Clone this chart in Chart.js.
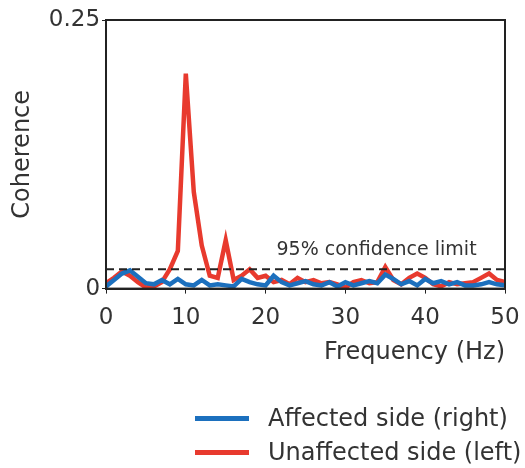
<!DOCTYPE html>
<html>
<head>
<meta charset="utf-8">
<script src="https://cdn.jsdelivr.net/npm/chart.js@4"></script>
<style>
  body { margin: 0; background: #fff; }
  #wrap { position: relative; width: 525px; height: 468px; }
  #legend { position: absolute; left: 195px; top: 401px; font-family: "DejaVu Sans", sans-serif; font-size: 24px; color: #333; }
  #legend div { display: flex; align-items: center; height: 34px; }
  #legend span.sw { display: inline-block; width: 54px; height: 5px; margin-right: 19px; }
</style>
</head>
<body>
<div id="wrap">
  <canvas id="chart" width="525" height="468"></canvas>
  <div id="legend"></div>
</div>
<script>
// frequency bins (Hz)
const freqs = [];
for (let f = 0; f <= 50; f++) freqs.push(f);

const affected = [0.002, 0.008, 0.014, 0.017, 0.011, 0.005, 0.004, 0.008, 0.004, 0.009,
  0.004, 0.003, 0.008, 0.003, 0.004, 0.003, 0.002, 0.009, 0.006, 0.004,
  0.003, 0.012, 0.006, 0.003, 0.005, 0.007, 0.004, 0.003, 0.006, 0.002,
  0.006, 0.003, 0.005, 0.007, 0.005, 0.013, 0.009, 0.004, 0.007, 0.003,
  0.009, 0.005, 0.007, 0.004, 0.006, 0.003, 0.003, 0.004, 0.006, 0.004, 0.003];

const unaffected = [0.005, 0.01, 0.016, 0.012, 0.006, 0.001, 0.002, 0.006, 0.018, 0.035,
  0.2, 0.09, 0.04, 0.012, 0.01, 0.045, 0.008, 0.012, 0.018, 0.01,
  0.012, 0.006, 0.008, 0.004, 0.01, 0.006, 0.008, 0.005, 0.006, 0.004,
  0.001, 0.006, 0.008, 0.005, 0.006, 0.02, 0.008, 0.004, 0.01, 0.014,
  0.01, 0.004, 0.002, 0.006, 0.004, 0.005, 0.006, 0.01, 0.014, 0.008, 0.006];

const confLimit = 0.018;
const confLine = freqs.map(() => confLimit);

const xTicks = [0, 10, 20, 30, 40, 50];
const yTicks = [0, 0.25];

const font = '"DejaVu Sans", sans-serif';
const textColor = '#333';

const boxPlugin = {
  id: 'box',
  afterDatasetsDraw(chart) {
    const { ctx, chartArea: a, scales } = chart;
    ctx.save();
    ctx.strokeStyle = '#222';
    ctx.lineWidth = 2;
    ctx.strokeRect(a.left, a.top, a.right - a.left, a.bottom - a.top);
    ctx.fillStyle = textColor;
    ctx.font = '19px ' + font;
    ctx.textAlign = 'center';
    ctx.textBaseline = 'alphabetic';
    ctx.fillText('95% confidence limit', scales.x.getPixelForValue(33.9), scales.y.getPixelForValue(confLimit) - 14);
    ctx.restore();
  }
};

const ctx = document.getElementById('chart').getContext('2d');
const chart = new Chart(ctx, {
  type: 'line',
  data: {
    datasets: [{
      label: 'Affected side (right)',
      data: freqs.map((f, i) => ({ x: f, y: affected[i] })),
      borderColor: 'rgb(28, 112, 190)',
      borderWidth: 4.5,
      pointRadius: 0,
      order: 1,
    }, {
      label: 'Unaffected side (left)',
      data: freqs.map((f, i) => ({ x: f, y: unaffected[i] })),
      borderColor: 'rgb(232, 58, 46)',
      borderWidth: 4.5,
      pointRadius: 0,
      order: 2,
    }, {
      label: '95% confidence limit',
      data: freqs.map((f, i) => ({ x: f, y: confLine[i] })),
      borderColor: '#222',
      borderWidth: 2,
      borderDash: [8, 5],
      pointRadius: 0,
      order: 0,
    }],
  },
  options: {
    responsive: false,
    animation: false,
    layout: { padding: { top: 20, right: 20, bottom: 101, left: 8 } },
    plugins: { legend: { display: false }, tooltip: { enabled: false } },
    scales: {
      x: {
        type: 'linear',
        min: 0, max: 50,
        afterBuildTicks: s => { s.ticks = xTicks.map(v => ({ value: v })); },
        afterFit: s => { s.paddingRight = 0; },
        ticks: { color: textColor, font: { family: font, size: 23 }, padding: 11, maxRotation: 0, callback: v => String(v) },
        grid: { drawOnChartArea: false, color: '#222', tickLength: 5 },
        border: { color: '#222', width: 2 },
        title: { display: true, text: 'Frequency (Hz)', align: 'end', color: textColor, font: { family: font, size: 24 }, padding: { top: -5, bottom: 0 } },
      },
      y: {
        min: 0, max: 0.25,
        afterBuildTicks: s => { s.ticks = yTicks.map(v => ({ value: v })); },
        ticks: { color: textColor, font: { family: font, size: 23 }, padding: 2, callback: v => String(v) },
        grid: { drawOnChartArea: false, color: '#222', tickLength: 4 },
        border: { color: '#222', width: 2 },
        title: { display: true, text: 'Coherence', color: textColor, font: { family: font, size: 24 }, padding: { top: 0, bottom: 10 } },
      },
    },
  },
  plugins: [boxPlugin],
});

// html legend from the two data series
const legend = document.getElementById('legend');
chart.data.datasets.slice(0, 2).forEach(ds => {
  const row = document.createElement('div');
  const sw = document.createElement('span');
  sw.className = 'sw';
  sw.style.background = ds.borderColor;
  row.appendChild(sw);
  row.appendChild(document.createTextNode(ds.label));
  legend.appendChild(row);
});
</script>
</body>
</html>
